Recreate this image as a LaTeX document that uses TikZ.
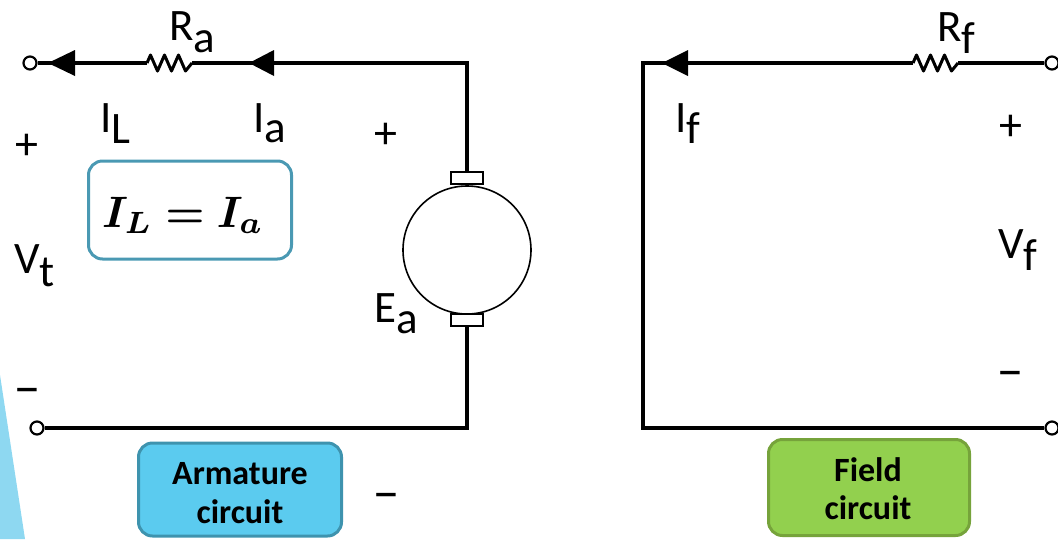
\documentclass[tikz,border=0pt]{standalone}
\usepackage{amsmath}
\usepackage{bm}
\usepackage{graphicx}
\usepackage[no-math]{fontspec}
\setmainfont{Carlito}
\definecolor{armf}{HTML}{5BCBEF}
\definecolor{armb}{HTML}{3E93AE}
\definecolor{fldf}{HTML}{92D04E}
\definecolor{fldb}{HTML}{76A33B}
\definecolor{eqc}{HTML}{4A99B3}
\definecolor{tri}{HTML}{8ED8F1}
\begin{document}
\begin{tikzpicture}[x=1pt,y=-1pt,
  wire/.style={line width=4pt, line join=miter},
  thinl/.style={line width=1.6pt},
  zig/.style={line width=3pt, line join=round},
  term/.style={circle, draw, line width=2.2pt, fill=white, minimum size=13pt, inner sep=0pt},
  lbl/.style={font=\fontsize{45}{45}\selectfont, inner sep=0pt, anchor=base west},
  sgn/.style={font=\fontsize{46}{46}\selectfont, inner sep=0pt},
  msgn/.style={font=\fontsize{52}{52}\selectfont, inner sep=0pt},
  boxlbl/.style={font=\fontsize{34}{34}\selectfont\bfseries, inner sep=0pt, anchor=base},
  tag/.style={draw, line width=3pt, rounded corners=14pt, inner sep=0pt},
  brush/.style={draw, thinl, fill=white, minimum width=32pt, minimum height=12pt, inner sep=0pt},
]
\useasboundingbox (0,0) rectangle (1058,539);
\fill[tri] (0,375) -- (25,539) -- (0,539) -- cycle;

% ---------- armature circuit ----------
\coordinate (c1) at (467,63);
\coordinate (c2) at (467,428);
\coordinate (ra1) at (147,63);
\coordinate (ra2) at (192,63);
\node[circle, draw, thinl, minimum size=128pt, inner sep=0pt] (m) at (467,250) {};
\node[brush] (b1) at (467,178) {};
\node[brush] (b2) at (467,320) {};
\node[term] (t1) at (30,63) {};
\node[term] (t2) at (37,428) {};

\draw[wire] (t1.east) -- (ra1);
\draw[zig] (ra1) -- ++(3.5,-8) -- ++(7,16) -- ++(7,-16) -- ++(7,16) -- ++(7,-16) -- ++(7,16) -- (ra2);
\draw[wire] (ra2) -- (c1) -- (b1.north);
\draw[wire] (b2.south) -- (c2) -- (t2.east);
\fill (48,63) -- (75,50) -- (75,76) -- cycle;
\fill (249,63) -- (274,50) -- (274,76) -- cycle;

\node[lbl] (lra) at (169,40) {R\raisebox{-12pt}{a}};
\node[lbl] (lil) at (100,132) {I\raisebox{-11pt}{L}};
\node[lbl] (lia) at (253,132) {I\raisebox{-10pt}{a}};
\node[lbl] (lvt) at (14,273) {V\raisebox{-13pt}{t}};
\node[lbl] (lea) at (374,322) {E\raisebox{-11pt}{a}};

\node[sgn] (p1) at (27,147) {+};
\node[msgn] (n1) at (27,397) {−};
\node[sgn] (p2) at (386,136) {+};
\node[msgn] (n2) at (386,502) {−};

\node[tag, draw=eqc, fill=white, minimum width=203pt, minimum height=98pt] (eq) at (190,210) {};
\node[inner sep=0pt, anchor=base] (eqt) at (183,227) {\scalebox{4.4}{$\boldsymbol{I_L = I_a}$}};

\node[tag, draw=armb, fill=armf, minimum width=203pt, minimum height=93pt] (arm) at (240,489.5) {};
\node[boxlbl] (arm1) at (240,484) {Armature};
\node[boxlbl] (arm2) at (240,523) {circuit};

% ---------- field circuit ----------
\coordinate (f1) at (643,63);
\coordinate (f2) at (643,428);
\coordinate (rf1) at (913,63);
\coordinate (rf2) at (958,63);
\node[term] (t3) at (1052,63) {};
\node[term] (t4) at (1052,428) {};
\draw[wire] (t3.west) -- (rf2);
\draw[zig] (rf1) -- ++(3.5,-8) -- ++(7,16) -- ++(7,-16) -- ++(7,16) -- ++(7,-16) -- ++(7,16) -- (rf2);
\draw[wire] (rf1) -- (f1) -- (f2) -- (t4.west);
\fill (662,63) -- (688,50) -- (688,76) -- cycle;

\node[lbl] (lrf) at (937,41) {R\raisebox{-12pt}{f}};
\node[lbl] (lif) at (675,132) {I\raisebox{-11pt}{f}};
\node[lbl] (lvf) at (998,258) {V\raisebox{-12pt}{f}};
\node[sgn] (p3) at (1011,128) {+};
\node[msgn] (n3) at (1010,380) {−};

\node[tag, draw=fldb, fill=fldf, minimum width=201pt, minimum height=96pt] (fld) at (869,487.5) {};
\node[boxlbl] (fld1) at (868,481) {Field};
\node[boxlbl] (fld2) at (868,519) {circuit};
\end{tikzpicture}
\end{document}
